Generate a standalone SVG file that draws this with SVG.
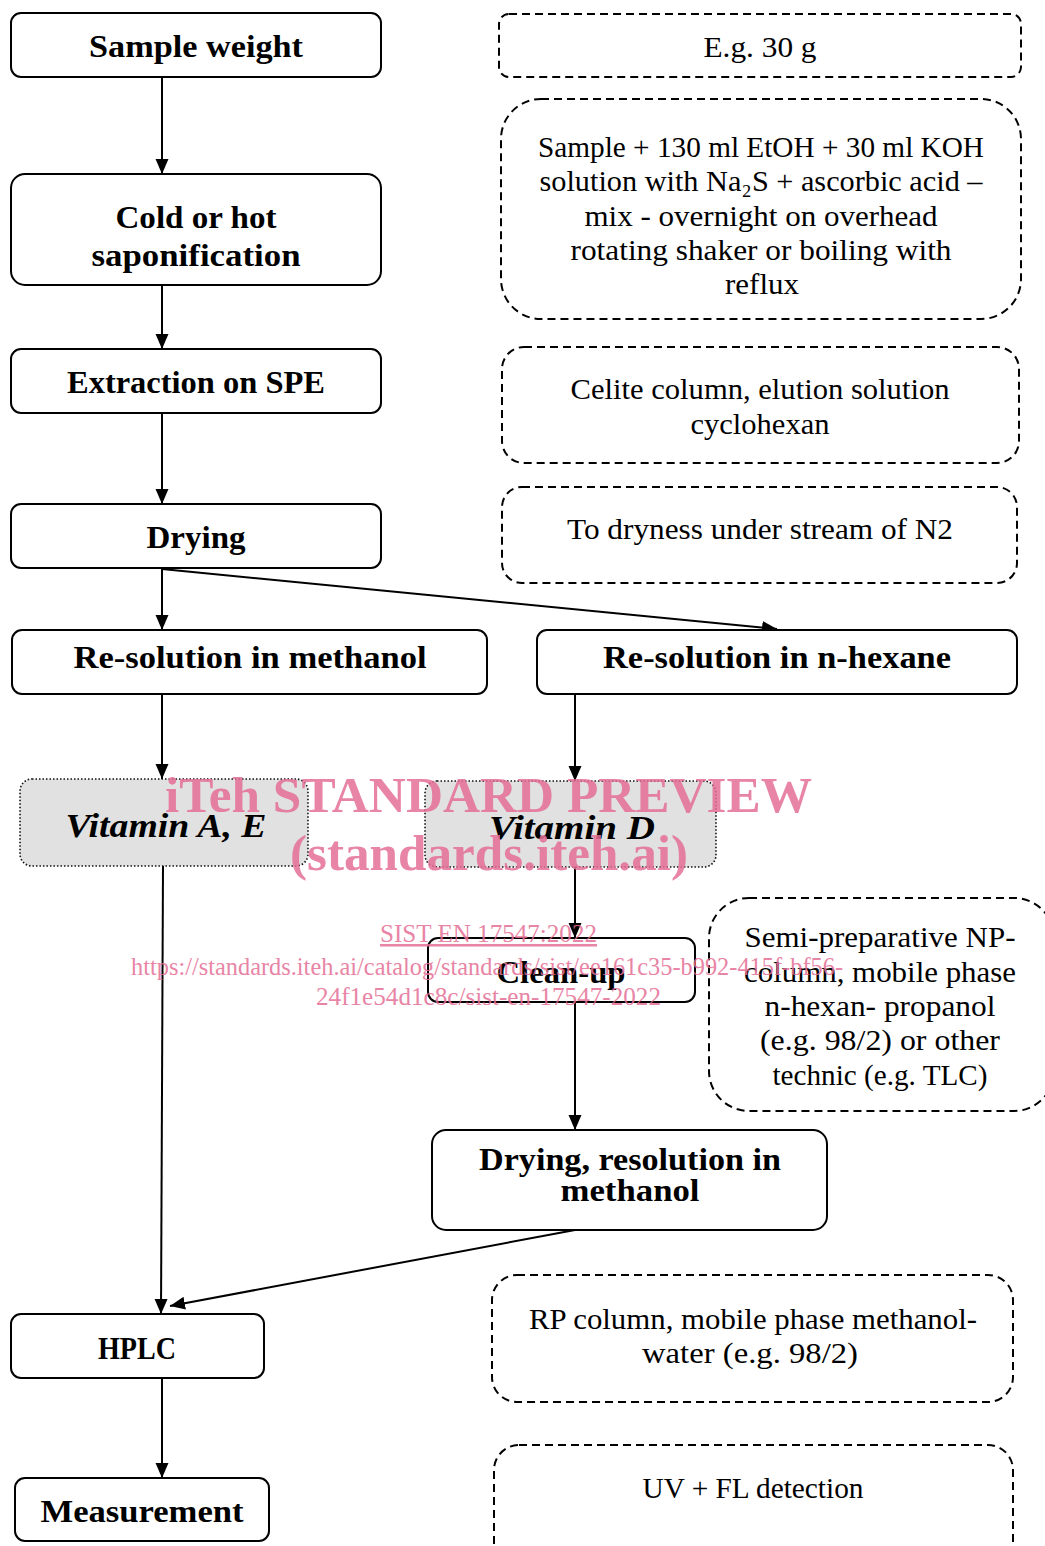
<svg xmlns="http://www.w3.org/2000/svg" width="1045" height="1546" viewBox="0 0 1045 1546">
<defs>
<marker id="arr" markerUnits="userSpaceOnUse" markerWidth="16" markerHeight="14" refX="15" refY="6.5" orient="auto">
<path d="M0,0 L15,6.5 L0,13 z" fill="#000"/>
</marker>
<style>
.box{fill:#fff;stroke:#000;stroke-width:2}
.vit{fill:#e1e1e1;stroke:#111;stroke-width:1.6;stroke-dasharray:1.5 2}
.note{fill:#fff;stroke:#000;stroke-width:2;stroke-dasharray:8 5}
.b{font-family:"Liberation Serif","Times New Roman",serif;font-weight:bold;font-size:31px;text-anchor:middle;fill:#000}
.bi{font-family:"Liberation Serif","Times New Roman",serif;font-weight:bold;font-style:italic;font-size:34px;text-anchor:middle;fill:#000}
.r{font-family:"Liberation Serif","Times New Roman",serif;font-size:29px;text-anchor:middle;fill:#000}
.line{fill:none;stroke:#000;stroke-width:2}
.wm{font-family:"Liberation Serif","Times New Roman",serif;fill:#e56f96;opacity:0.85}
</style>
</defs>

<g id="connectors">
<line class="line" x1="162" y1="77" x2="162" y2="174" marker-end="url(#arr)"/>
<line class="line" x1="162" y1="285" x2="162" y2="349" marker-end="url(#arr)"/>
<line class="line" x1="162" y1="413" x2="162" y2="504" marker-end="url(#arr)"/>
<line class="line" x1="162" y1="568" x2="162" y2="630" marker-end="url(#arr)"/>
<line class="line" x1="162" y1="569" x2="777" y2="629" marker-end="url(#arr)"/>
<line class="line" x1="162" y1="694" x2="162" y2="779" marker-end="url(#arr)"/>
<line class="line" x1="575" y1="694" x2="575" y2="781" marker-end="url(#arr)"/>
<line class="line" x1="163" y1="866" x2="161" y2="1314" marker-end="url(#arr)"/>
<line class="line" x1="575" y1="867" x2="575" y2="938" marker-end="url(#arr)"/>
<line class="line" x1="575" y1="1002" x2="575" y2="1130" marker-end="url(#arr)"/>
<line class="line" x1="575" y1="1230" x2="170" y2="1306" marker-end="url(#arr)"/>
<line class="line" x1="162" y1="1378" x2="162" y2="1478" marker-end="url(#arr)"/>
</g>

<g id="n-sample-weight"><rect class="box" x="11" y="13" width="370" height="64" rx="10"/><text class="b" x="196" y="57" textLength="214" lengthAdjust="spacingAndGlyphs">Sample weight</text></g>
<g id="n-saponification"><rect class="box" x="11" y="174" width="370" height="111" rx="14"/><text class="b" x="196" y="228" textLength="161" lengthAdjust="spacingAndGlyphs">Cold or hot</text><text class="b" x="196" y="266" textLength="209" lengthAdjust="spacingAndGlyphs">saponification</text></g>
<g id="n-extraction"><rect class="box" x="11" y="349" width="370" height="64" rx="10"/><text class="b" x="196" y="393" textLength="258" lengthAdjust="spacingAndGlyphs">Extraction on SPE</text></g>
<g id="n-drying"><rect class="box" x="11" y="504" width="370" height="64" rx="10"/><text class="b" x="196" y="548" textLength="99" lengthAdjust="spacingAndGlyphs">Drying</text></g>
<g id="n-resol-methanol"><rect class="box" x="12" y="630" width="475" height="64" rx="10"/><text class="b" x="250" y="668" textLength="353" lengthAdjust="spacingAndGlyphs">Re-solution in methanol</text></g>
<g id="n-resol-hexane"><rect class="box" x="537" y="630" width="480" height="64" rx="10"/><text class="b" x="777" y="668" textLength="348" lengthAdjust="spacingAndGlyphs">Re-solution in n-hexane</text></g>
<g id="n-vit-ae"><rect class="vit" x="20" y="779" width="288" height="87" rx="12"/><text class="bi" x="166" y="837" textLength="201" lengthAdjust="spacingAndGlyphs">Vitamin A, E</text></g>
<g id="n-vit-d"><rect class="vit" x="425" y="781" width="291" height="86" rx="12"/><text class="bi" x="572" y="839" textLength="166" lengthAdjust="spacingAndGlyphs">Vitamin D</text></g>
<g id="n-cleanup"><rect class="box" x="428" y="938" width="267" height="64" rx="10"/><text class="b" x="561" y="983" textLength="129" lengthAdjust="spacingAndGlyphs">Clean-up</text></g>
<g id="n-drying-res"><rect class="box" x="432" y="1130" width="395" height="100" rx="14"/><text class="b" x="630" y="1170" textLength="302" lengthAdjust="spacingAndGlyphs">Drying, resolution in</text><text class="b" x="630" y="1201" textLength="139" lengthAdjust="spacingAndGlyphs">methanol</text></g>
<g id="n-hplc"><rect class="box" x="11" y="1314" width="253" height="64" rx="10"/><text class="b" x="137" y="1359" textLength="78" lengthAdjust="spacingAndGlyphs">HPLC</text></g>
<g id="n-measurement"><rect class="box" x="15" y="1478" width="254" height="63" rx="10"/><text class="b" x="142" y="1522" textLength="203" lengthAdjust="spacingAndGlyphs">Measurement</text></g>

<g id="note-weight"><rect class="note" x="499" y="14" width="522" height="63" rx="10"/><text class="r" x="760" y="57" textLength="113" lengthAdjust="spacingAndGlyphs">E.g. 30 g</text></g>
<g id="note-sapon"><rect class="note" x="501" y="99" width="520" height="220" rx="40"/>
<text class="r" x="761" y="157" textLength="446" lengthAdjust="spacingAndGlyphs">Sample + 130 ml EtOH + 30 ml KOH</text>
<text class="r" x="761" y="191" textLength="443" lengthAdjust="spacingAndGlyphs">solution with Na₂S + ascorbic acid –</text>
<text class="r" x="761" y="226" textLength="353" lengthAdjust="spacingAndGlyphs">mix - overnight on overhead</text>
<text class="r" x="761" y="260" textLength="381" lengthAdjust="spacingAndGlyphs">rotating shaker or boiling with</text>
<text class="r" x="762" y="294" textLength="74" lengthAdjust="spacingAndGlyphs">reflux</text></g>
<g id="note-spe"><rect class="note" x="502" y="347" width="517" height="116" rx="22"/>
<text class="r" x="760" y="399" textLength="379" lengthAdjust="spacingAndGlyphs">Celite column, elution solution</text>
<text class="r" x="760" y="434" textLength="139" lengthAdjust="spacingAndGlyphs">cyclohexan</text></g>
<g id="note-drying"><rect class="note" x="502" y="487" width="515" height="96" rx="20"/>
<text class="r" x="760" y="539" textLength="386" lengthAdjust="spacingAndGlyphs">To dryness under stream of N2</text></g>
<g id="note-cleanup"><rect class="note" x="709" y="898" width="345" height="213" rx="40"/>
<text class="r" x="880" y="947" textLength="271" lengthAdjust="spacingAndGlyphs">Semi-preparative NP-</text>
<text class="r" x="880" y="982" textLength="272" lengthAdjust="spacingAndGlyphs">column, mobile phase</text>
<text class="r" x="880" y="1016" textLength="231" lengthAdjust="spacingAndGlyphs">n-hexan- propanol</text>
<text class="r" x="880" y="1050" textLength="240" lengthAdjust="spacingAndGlyphs">(e.g. 98/2) or other</text>
<text class="r" x="880" y="1085" textLength="215" lengthAdjust="spacingAndGlyphs">technic (e.g. TLC)</text></g>
<g id="note-hplc"><rect class="note" x="492" y="1275" width="521" height="127" rx="25"/>
<text class="r" x="753" y="1329" textLength="448" lengthAdjust="spacingAndGlyphs">RP column, mobile phase methanol-</text>
<text class="r" x="750" y="1363" textLength="216" lengthAdjust="spacingAndGlyphs">water (e.g. 98/2)</text></g>
<g id="note-detection"><rect class="note" x="494" y="1445" width="519" height="125" rx="25"/>
<text class="r" x="753" y="1498" textLength="221" lengthAdjust="spacingAndGlyphs">UV + FL detection</text></g>

<g id="watermark">
<text class="wm" x="165" y="812" font-size="51" font-weight="bold" textLength="647" lengthAdjust="spacingAndGlyphs">iTeh STANDARD PREVIEW</text>
<text class="wm" x="290" y="870" font-size="50" font-weight="bold" textLength="398" lengthAdjust="spacingAndGlyphs">(standards.iteh.ai)</text>
<text class="wm" x="380" y="942" font-size="25" textLength="217" lengthAdjust="spacingAndGlyphs" text-decoration="underline">SIST EN 17547:2022</text>
<text class="wm" x="131" y="975" font-size="25" textLength="712" lengthAdjust="spacingAndGlyphs">https://standards.iteh.ai/catalog/standards/sist/ee161c35-b992-415f-bf56-</text>
<text class="wm" x="316" y="1005" font-size="25" textLength="345" lengthAdjust="spacingAndGlyphs">24f1e54d1c8c/sist-en-17547-2022</text>
</g>
</svg>
